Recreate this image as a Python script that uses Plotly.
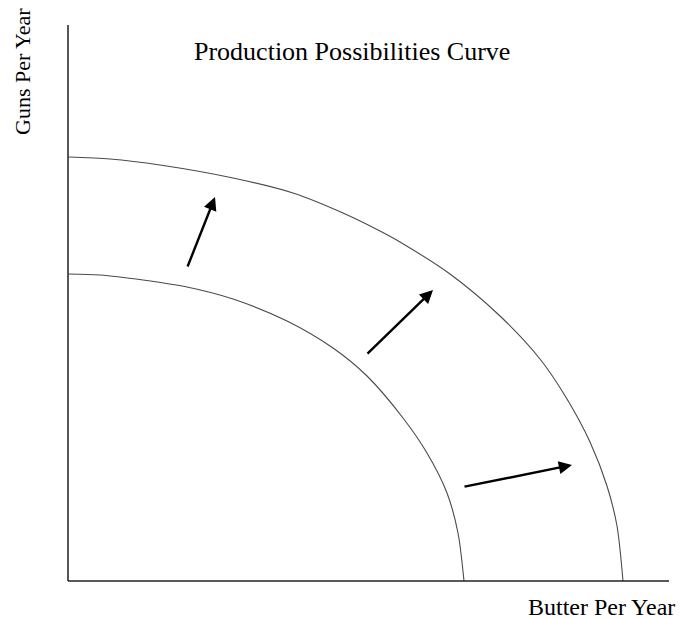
import plotly.graph_objects as go

# 坐标单位：原点在两轴交点
# 原始生产可能性曲线
ppc_old_butter = [0, 32, 75, 119, 165, 219, 265, 299, 335, 359, 379, 390, 396]
ppc_old_guns = [307, 306, 301, 294, 282, 260, 233, 205, 163, 128, 88, 48, 0]

# 外移后的生产可能性曲线
ppc_new_butter = [0, 42, 92, 165, 225, 275, 312, 332, 382, 432, 472, 499, 522, 539, 549, 555]
ppc_new_guns = [424, 422, 416, 403, 388, 368, 350, 339, 307, 265, 222, 182, 139, 95, 55, 0]

# 箭头 (起点 -> 终点)
arrow_tail_butter = [119, 298, 395]
arrow_tail_guns = [313, 226, 94]
arrow_head_butter = [147, 365, 504]
arrow_head_guns = [384, 291, 116]

# 坐标轴长度
butter_axis_max = 601
guns_axis_max = 556

title_text = "Production Possibilities Curve"
x_label = "Butter Per Year"
y_label = "Guns Per Year"

fig = go.Figure()

curve_style = dict(color="#4a4a4a", width=1.1)
fig.add_trace(go.Scatter(x=ppc_old_butter, y=ppc_old_guns, mode="lines",
                         line=dict(shape="spline", smoothing=0.8, **curve_style),
                         hoverinfo="skip"))
fig.add_trace(go.Scatter(x=ppc_new_butter, y=ppc_new_guns, mode="lines",
                         line=dict(shape="spline", smoothing=0.8, **curve_style),
                         hoverinfo="skip"))

# 坐标轴线
fig.add_trace(go.Scatter(x=[0, 0], y=[0, guns_axis_max], mode="lines",
                         line=dict(color="#444444", width=1.8), hoverinfo="skip"))
fig.add_trace(go.Scatter(x=[0, butter_axis_max], y=[0, 0], mode="lines",
                         line=dict(color="#222222", width=1.5), hoverinfo="skip"))

# 箭头
for tx, ty, hx, hy in zip(arrow_tail_butter, arrow_tail_guns, arrow_head_butter, arrow_head_guns):
    fig.add_annotation(x=hx, y=hy, ax=tx, ay=ty, xref="x", yref="y",
                       axref="x", ayref="y", text="", showarrow=True,
                       arrowhead=2, arrowsize=1.1, arrowwidth=2.4, arrowcolor="black")

serif = "Liberation Serif, Times New Roman, serif"
fig.add_annotation(x=284, y=530, xref="x", yref="y", text=title_text, showarrow=False,
                   font=dict(family=serif, size=26, color="black"))
fig.add_annotation(x=609, y=-26, xref="x", yref="y", text=x_label, showarrow=False,
                   xanchor="right",
                   font=dict(family=serif, size=24, color="black"))
fig.add_annotation(x=-46, y=509, xref="x", yref="y", text=y_label, showarrow=False,
                   textangle=-90, font=dict(family=serif, size=22, color="black"))

# 页面有 8px 的默认边距，图缩小并平移范围以便完整显示
fig.update_layout(width=679, height=611, margin=dict(l=0, r=0, t=0, b=0),
                  showlegend=False, plot_bgcolor="white", paper_bgcolor="white")
fig.update_xaxes(range=[-60, 619], visible=False, fixedrange=True)
fig.update_yaxes(range=[-38, 573], visible=False, fixedrange=True)

fig.write_html("out.html")
